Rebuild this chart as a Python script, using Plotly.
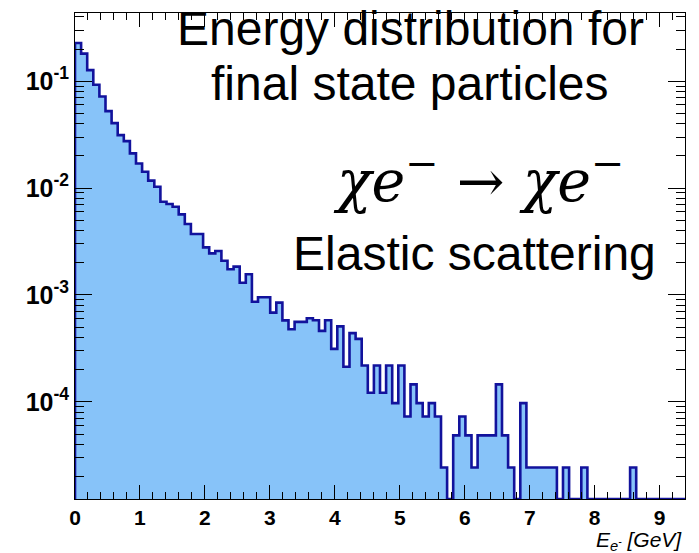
import numpy as np
import plotly.graph_objects as go

# ---- data: normalized energy distribution, 100 bins ----
X_MIN = 0.0
X_MAX = 9.39
N_BINS = 100
values = [
    0.228, 0.181, 0.127, 0.0927, 0.0719, 0.0525, 0.0405, 0.0313, 0.0275, 0.0211,
    0.0170, 0.0142, 0.01175, 0.0103, 0.00745, 0.00709, 0.00669, 0.00568, 0.00461, 0.00372,
    0.00372, 0.00279, 0.00245, 0.00258, 0.00209, 0.00174, 0.00184, 0.00130, 0.00156, 0.000865,
    0.000952, 0.000952, 0.000684, 0.000847, 0.000578, 0.000478, 0.000560, 0.000560, 0.000605, 0.000580,
    0.000461, 0.000580, 0.000313, 0.000508, 0.000213, 0.000439, 0.000388, 0.000219, 0.0001215, 0.000219,
    0.0001215, 0.000219, 0.0000972, 0.000219, 0.0000729, 0.0001458, 0.0000972, 0.0000729, 0.0000972, 0.0000729,
    0.0000243, 0.0, 0.0000486, 0.0000729, 0.0000486, 0.0000243, 0.0000486, 0.0000486, 0.0000486, 0.0001458,
    0.0000486, 0.0000243, 0.0, 0.0000972, 0.0000243, 0.0000243, 0.0000243, 0.0000243, 0.0000243, 0.0,
    0.0000243, 0.0, 0.0, 0.0000243, 0.0, 0.0, 0.0, 0.0, 0.0, 0.0,
    0.0, 0.0000243, 0.0, 0.0, 0.0, 0.0, 0.0, 0.0, 0.0, 0.0,
]
x_ticks = [0, 1, 2, 3, 4, 5, 6, 7, 8, 9]
y_decades = [-4, -3, -2, -1]

Y_LOG_MIN = -4.909
Y_LOG_MAX = -0.362
floor_val = 10 ** Y_LOG_MIN

edges = np.linspace(X_MIN, X_MAX, N_BINS + 1)
vals = np.array(values, dtype=float)
vals_plot = np.where(vals > 0, vals, floor_val)

# step outline (hv) closed at the bottom
xs = [edges[0]] + list(edges[:-1]) + [edges[-1], edges[-1]]
ys = [floor_val] + list(vals_plot) + [vals_plot[-1], floor_val]

FILL = "#87C3F9"
LINE = "#12129C"

fig = go.Figure()
fig.add_trace(go.Scatter(
    x=xs, y=ys, mode="lines", line=dict(shape="hv", color=LINE, width=2.6),
    fill="toself", fillcolor=FILL, hoverinfo="skip", showlegend=False,
))

minor_y = [k * 10.0 ** e for e in range(-6, 0) for k in range(2, 10)]

fig.update_layout(
    width=699, height=553,
    margin=dict(l=75, r=14, t=13, b=54),
    paper_bgcolor="white", plot_bgcolor="white",
    font=dict(family="Liberation Sans, Arial, sans-serif", color="black"),
    xaxis=dict(
        range=[X_MIN, X_MAX], showgrid=False, zeroline=False,
        showline=True, linecolor="black", linewidth=1, mirror="ticks",
        ticks="inside", ticklen=14, tickcolor="black", tickwidth=1,
        tickmode="array", tickvals=x_ticks, ticktext=[str(t) for t in x_ticks],
        tickfont=dict(size=21, weight="bold", family="Liberation Sans, Arial"),
        minor=dict(dtick=0.2, ticks="inside", ticklen=7, tickcolor="black", tickwidth=1),
    ),
    yaxis=dict(
        type="log", range=[Y_LOG_MIN, Y_LOG_MAX], showgrid=False, zeroline=False,
        showline=True, linecolor="black", linewidth=1, mirror="ticks",
        ticks="inside", ticklen=17, tickcolor="black", tickwidth=1,
        tickmode="array", tickvals=[10.0 ** d for d in y_decades],
        ticktext=["10<sup>%d</sup>" % d for d in y_decades],
        tickfont=dict(size=25, weight="bold", family="Liberation Sans, Arial"),
        minor=dict(tickmode="array", tickvals=minor_y, ticks="inside", ticklen=9,
                   tickcolor="black", tickwidth=1),
    ),
)

PT, PB, PL, PR = 13, 499, 75, 685
def py(p):
    return (PB - p) / (PB - PT)
def px(p):
    return (p - PL) / (PR - PL)

big = dict(family="Liberation Sans, Arial", size=48, color="black")
fig.add_annotation(text="Energy distribution for", x=px(410), y=py(28), xref="paper", yref="paper",
                   showarrow=False, font=big, xanchor="center", yanchor="middle")
fig.add_annotation(text="final state particles", x=px(410), y=py(83), xref="paper", yref="paper",
                   showarrow=False, font=big, xanchor="center", yanchor="middle")
fig.add_annotation(text="Elastic scattering", x=px(474), y=py(253), xref="paper", yref="paper",
                   showarrow=False, font=big, xanchor="center", yanchor="middle")
fig.add_annotation(text="<i>χe</i><sup>−</sup> → <i>χe</i><sup>−</sup>", x=px(478), y=py(177),
                   xref="paper", yref="paper", showarrow=False,
                   font=dict(family="DejaVu Serif, Liberation Serif, serif", size=57, color="black"),
                   xanchor="center", yanchor="middle")
fig.add_annotation(text="<i>E<sub>e<sup>-</sup></sub> [GeV]</i>", x=px(684), y=py(541),
                   xref="paper", yref="paper", showarrow=False,
                   font=dict(family="Liberation Sans, Arial", size=21, color="black"),
                   xanchor="right", yanchor="middle")

fig.write_html("out.html")
